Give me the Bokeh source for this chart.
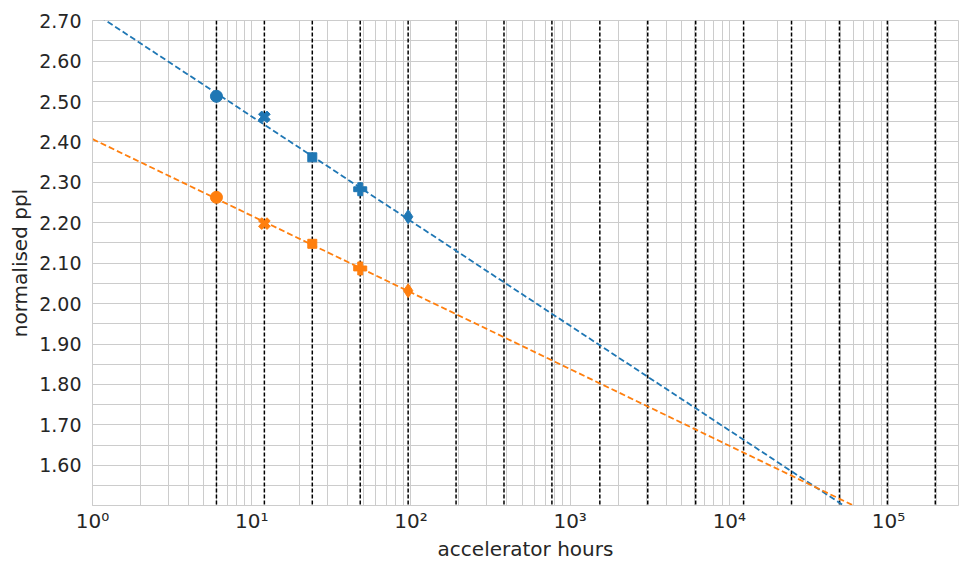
import math
from bokeh.plotting import figure
from bokeh.models import (ColumnDataSource, FixedTicker, Range1d, PrintfTickFormatter,
                          SingleIntervalTicker, Span)
from bokeh.embed import file_html
from bokeh.resources import INLINE

# ---- data ----
hours = [6, 12, 24, 48, 96]
blue_ppl = [2.513, 2.462, 2.362, 2.283, 2.215]
orange_ppl = [2.263, 2.198, 2.148, 2.087, 2.032]

blue_fit_hours = [1, 52400]
blue_fit_ppl = [2.722, 1.50]
orange_fit_hours = [1, 60500]
orange_fit_ppl = [2.407, 1.50]

vline_hours = [6, 12, 24, 48, 96, 192, 384, 768, 1536, 3072, 6144, 12288,
               24576, 49152, 98304, 196608]

x_ticks = [1, 10, 100, 1000, 10000, 100000]
x_tick_labels = ["10⁰", "10¹", "10²", "10³", "10⁴", "10⁵"]

# ---- styles ----
marker_shapes = ["circle", "plus", "square", "plus", "diamond"]
marker_angles = [0, math.pi / 4, 0, 0, 0]
marker_sizes = [12, 12, 9, 13, 14]
BLUE = "#1f77b4"
ORANGE = "#ff7f0e"
TXT = "#262626"
GRID = "#cccccc"
FONT = "DejaVu Sans"

p = figure(width=959, height=563, x_axis_type="log",
           x_range=Range1d(0.999, 2.75e5), y_range=Range1d(1.5005, 2.7005),
           output_backend="svg", toolbar_location=None, title=None,
           min_border_left=92, min_border_right=1, min_border_top=20,
           min_border_bottom=58)
p.background_fill_color = "white"
p.border_fill_color = "white"
p.outline_line_color = GRID

# axes
minor = [m * 10 ** k for k in range(0, 6) for m in range(2, 10)]
p.xaxis.ticker = FixedTicker(ticks=x_ticks, minor_ticks=minor)
p.xaxis.major_label_overrides = {t: l for t, l in zip(x_ticks, x_tick_labels)}
p.yaxis.ticker = SingleIntervalTicker(interval=0.1, num_minor_ticks=2)
p.yaxis.formatter = PrintfTickFormatter(format="%.2f")

for ax in (p.xaxis, p.yaxis):
    ax.axis_line_color = GRID
    ax.major_tick_line_color = None
    ax.minor_tick_line_color = None
    ax.major_tick_out = 0
    ax.minor_tick_out = 0
    ax.major_label_text_font = FONT
    ax.major_label_text_color = TXT
    ax.axis_label_text_font = FONT
    ax.axis_label_text_color = TXT
    ax.axis_label_text_font_style = "normal"
    ax.axis_label_text_font_size = "20px"

p.xaxis.major_label_text_font_size = "20px"
p.yaxis.major_label_text_font_size = "19px"
p.xaxis.major_label_standoff = 3
p.yaxis.major_label_standoff = 11
p.xaxis.axis_label_standoff = 1
p.yaxis.axis_label_standoff = 4
p.xaxis.axis_label = "accelerator hours"
p.yaxis.axis_label = "normalised ppl"

for g in (p.xgrid, p.ygrid):
    g.grid_line_color = GRID
    g.grid_line_width = 1
    g.minor_grid_line_color = GRID
    g.minor_grid_line_width = 1

# vertical dashed lines
for h in vline_hours:
    p.add_layout(Span(location=h, dimension="height", line_color="black",
                      line_width=1.5, line_dash="4 2", level="underlay"))

# fit lines
p.line(blue_fit_hours, blue_fit_ppl, line_color=BLUE, line_width=1.8, line_dash="6 3")
p.line(orange_fit_hours, orange_fit_ppl, line_color=ORANGE, line_width=1.8, line_dash="6 3")

# markers
for ys, col in ((blue_ppl, BLUE), (orange_ppl, ORANGE)):
    src = ColumnDataSource(dict(x=hours, y=ys, marker=marker_shapes,
                                angle=marker_angles, size=marker_sizes))
    p.scatter("x", "y", source=src, marker="marker", angle="angle", size="size",
              fill_color=col, line_color=col, line_width=1)

open("out.html", "w").write(file_html(p, INLINE))
